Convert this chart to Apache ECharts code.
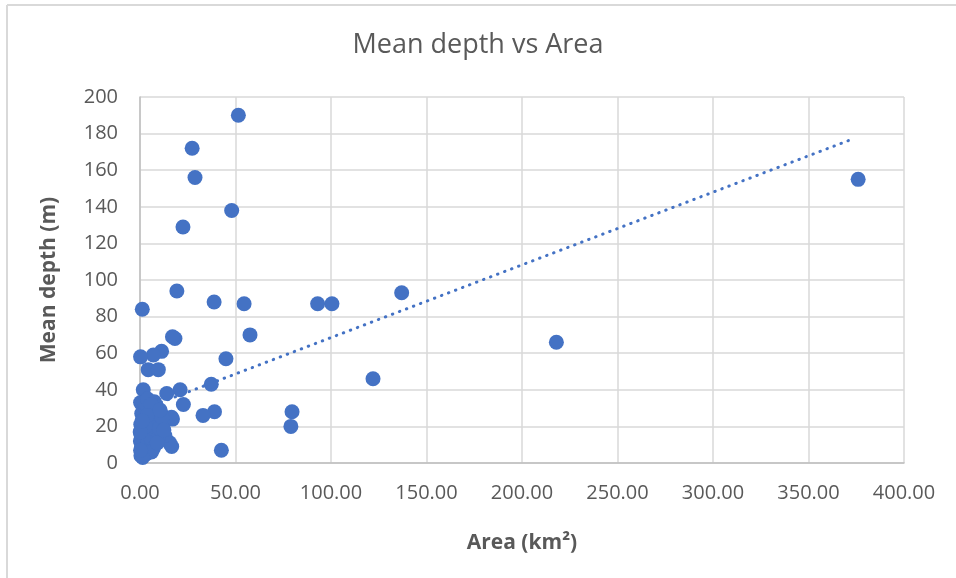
<!DOCTYPE html>
<html>
<head>
<meta charset="utf-8">
<script src="https://cdn.jsdelivr.net/npm/echarts@6/dist/echarts.min.js"></script>
<style>
  html, body { margin: 0; padding: 0; background: #fff; }
  #chart { width: 956px; height: 578px; }
</style>
</head>
<body>
<div id="chart"></div>
<script>
// Lake surface area (km²) against mean depth (m)
const areaKm2 = [
  376, 218, 137, 122, 100.5, 93, 79.6, 79, 57.6, 54.5,
  51.5, 48, 45, 42.6, 38.8, 39, 37.3, 33, 28.8, 27.3,
  22.5, 22.7, 21, 19.3, 18.3, 17, 17, 16.6, 15.5, 14,
  13, 11.3, 7, 1.2, 0.3, 4.3, 9.6, 1.7, 0.3, 7.5,
  11, 16.5, 12,
  0.5, 1, 0.8, 0.2, 0.6, 1.5, 0.4, 2, 0.9, 3,
  1.8, 2.5, 3.2, 4, 3.5, 4.6, 5, 6, 5.5, 6.5,
  7, 7.8, 8.5, 9.6, 10, 8, 2.2, 4, 5.8, 6,
  1.4, 2.8, 3.8, 9, 11.5, 12.5, 10.5, 0.1, 0.3, 1.1
];
const meanDepthM = [
  155, 66, 93, 46, 87, 87, 28, 20, 70, 87,
  190, 138, 57, 7, 88, 28, 43, 26, 156, 172,
  129, 32, 40, 94, 68, 69, 24, 9, 11, 38,
  15, 61, 59, 84, 58, 51, 51, 40, 33, 33.5,
  27, 25, 22,
  4, 6, 9, 12, 15, 18, 21, 24, 27, 30,
  13, 8, 5, 11, 17, 22, 26, 29, 14, 19,
  8, 23, 31, 14, 19, 27, 33, 35, 32, 6,
  3, 20, 26, 11, 25, 18, 29, 17, 7, 23
];

// Linear trendline end points
const trendArea = [0, 373];
const trendDepth = [28.8, 177];

const xTicks = [0, 50, 100, 150, 200, 250, 300, 350, 400];
const yTicks = [0, 20, 40, 60, 80, 100, 120, 140, 160, 180, 200];

const points = areaKm2.map((a, i) => [a, meanDepthM[i]]);
const trend = trendArea.map((a, i) => [a, trendDepth[i]]);

const FONT = '"Open Sans", "Noto Sans", sans-serif';
const TEXT = '#595959';
const GRID = '#d9d9d9';

const chart = echarts.init(document.getElementById('chart'));
chart.setOption({
  animation: false,
  backgroundColor: '#fff',
  title: {
    text: 'Mean depth vs Area',
    left: 'center',
    top: 27,
    textStyle: { fontFamily: FONT, fontSize: 27, fontWeight: 'normal', color: TEXT }
  },
  graphic: [
    { type: 'line', shape: { x1: 7, y1: 5, x2: 956, y2: 5 }, style: { stroke: '#d9d9d9', lineWidth: 2 }, silent: true },
    { type: 'line', shape: { x1: 7, y1: 5, x2: 7, y2: 578 }, style: { stroke: '#d9d9d9', lineWidth: 2 }, silent: true }
  ],
  grid: { left: 140, right: 52, top: 97, bottom: 115 },
  xAxis: {
    type: 'value',
    min: xTicks[0],
    max: xTicks[xTicks.length - 1],
    interval: 50,
    name: 'Area (km²)',
    nameLocation: 'middle',
    nameGap: 70,
    nameTextStyle: { fontFamily: FONT, fontSize: 21, fontWeight: 'bold', color: TEXT },
    axisLine: { show: true, lineStyle: { color: '#bfbfbf', width: 1.5 } },
    axisTick: { show: false },
    splitLine: { show: true, lineStyle: { color: GRID, width: 1.5 } },
    axisLabel: {
      margin: 20,
      fontFamily: FONT, fontSize: 20, color: TEXT,
      formatter: v => v.toFixed(2)
    }
  },
  yAxis: {
    type: 'value',
    min: yTicks[0],
    max: yTicks[yTicks.length - 1],
    interval: 20,
    name: 'Mean depth (m)',
    nameLocation: 'middle',
    nameGap: 80,
    nameTextStyle: { fontFamily: FONT, fontSize: 21, fontWeight: 'bold', color: TEXT },
    axisLine: { show: true, lineStyle: { color: '#bfbfbf', width: 1.5 } },
    axisTick: { show: false },
    splitLine: { show: true, lineStyle: { color: GRID, width: 1.5 } },
    axisLabel: { margin: 22, fontFamily: FONT, fontSize: 20, color: TEXT }
  },
  series: [
    {
      type: 'line',
      data: trend,
      symbol: 'none',
      z: 1,
      lineStyle: { color: '#4472C4', width: 3, type: [0.5, 7], cap: 'round' }
    },
    {
      type: 'scatter',
      data: points,
      symbol: 'circle',
      symbolSize: 15,
      z: 2,
      itemStyle: { color: '#4472C4', opacity: 1 }
    }
  ]
});
</script>
</body>
</html>
